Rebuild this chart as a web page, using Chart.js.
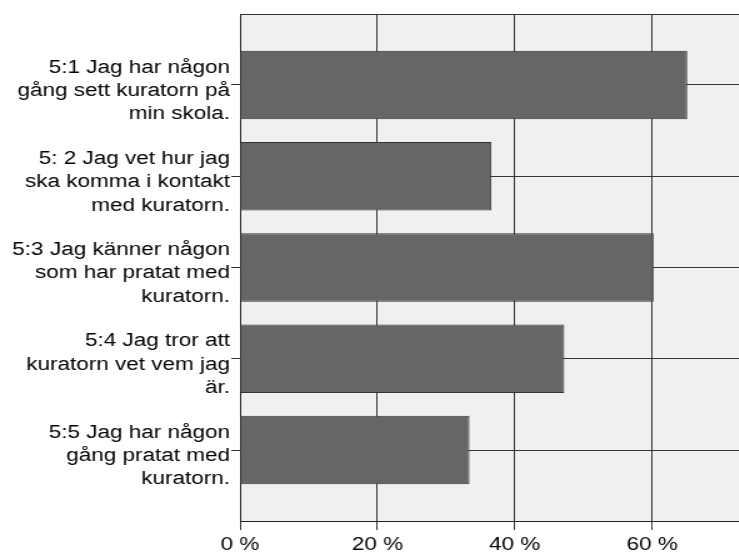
<!DOCTYPE html>
<html><head><meta charset="utf-8">
<script src="https://cdn.jsdelivr.net/npm/chart.js@4/dist/chart.umd.min.js"></script>
<style>
html,body{margin:0;padding:0;background:#fff;overflow:hidden}
#wrap{width:591px;height:553px;transform:scaleX(1.25);transform-origin:0 0}
</style></head><body>
<div id="wrap"><canvas id="c" width="591" height="553"></canvas></div>
<script>
const categories = [
  ["5:1 Jag har någon", "gång sett kuratorn på", "min skola."],
  ["5: 2 Jag vet hur jag", "ska komma i kontakt", "med kuratorn."],
  ["5:3 Jag känner någon", "som har pratat med", "kuratorn."],
  ["5:4 Jag tror att", "kuratorn vet vem jag", "är."],
  ["5:5 Jag har någon", "gång pratat med", "kuratorn."]
];
const percentValues = [65.1, 36.6, 60.2, 47.2, 33.4];
const xTickValues = [0, 20, 40, 60];
const xTickLabels = ["0 %", "20 %", "40 %", "60 %"];

Chart.defaults.font.family = "'Liberation Sans', Arial, sans-serif";
Chart.defaults.font.size = 18;
Chart.defaults.color = '#000';

const framePlugin = {
  id: 'frame',
  beforeDraw(chart) {
    const {ctx, chartArea: a} = chart;
    ctx.save();
    ctx.fillStyle = '#f0f0f0';
    ctx.fillRect(a.left, a.top, a.right - a.left, a.bottom - a.top);
    ctx.restore();
  },
  afterDraw(chart) {
    const {ctx, chartArea: a} = chart;
    ctx.save();
    ctx.strokeStyle = '#333';
    ctx.lineWidth = 1;
    ctx.beginPath();
    ctx.moveTo(a.left, Math.round(a.top) + 0.5);
    ctx.lineTo(a.right, Math.round(a.top) + 0.5);
    ctx.stroke();
    ctx.restore();
  }
};

new Chart(document.getElementById('c'), {
  type: 'bar',
  data: {
    datasets: [{
      data: percentValues.map((v, i) => ({x: v, y: i + 1})),
      backgroundColor: '#666666',
      borderColor: '#333333',
      borderWidth: 1,
      barPercentage: 0.75,
      categoryPercentage: 1.0
    }]
  },
  options: {
    indexAxis: 'y',
    responsive: false,
    devicePixelRatio: 1,
    animation: false,
    layout: {padding: {top: 14, right: 0, bottom: 0, left: 0}},
    plugins: {legend: {display: false}, tooltip: {enabled: false}},
    scales: {
      x: {
        type: 'linear',
        position: 'bottom',
        min: 0,
        max: 72.6,
        offset: false,
        afterBuildTicks: (s) => { s.ticks = xTickValues.map(v => ({value: v})); },
        afterFit: (s) => { s.height = 32; s.paddingLeft = 0; s.paddingRight = 0; },
        ticks: {
          padding: 4,
          maxRotation: 0,
          callback: (v) => xTickLabels[xTickValues.indexOf(v)]
        },
        grid: {color: '#333', lineWidth: 1, tickLength: 9, drawTicks: true, offset: false},
        border: {display: true, color: '#222', width: 1}
      },
      y: {
        type: 'linear',
        position: 'left',
        reverse: true,
        offset: false,
        min: 0.222,
        max: 5.778,
        afterBuildTicks: (s) => { s.ticks = categories.map((c, i) => ({value: i + 1})); },
        afterFit: (s) => { s.width = 192; s.paddingTop = 0; s.paddingBottom = 0; },
        ticks: {
          padding: 1,
          labelOffset: 6,
          font: {size: 18, lineHeight: 1.3},
          callback: (v) => categories[v - 1]
        },
        grid: {color: '#333', lineWidth: 1, tickLength: 7, drawTicks: true, offset: false},
        border: {display: true, color: '#222', width: 1}
      }
    }
  },
  plugins: [framePlugin]
});
</script>
</body></html>
